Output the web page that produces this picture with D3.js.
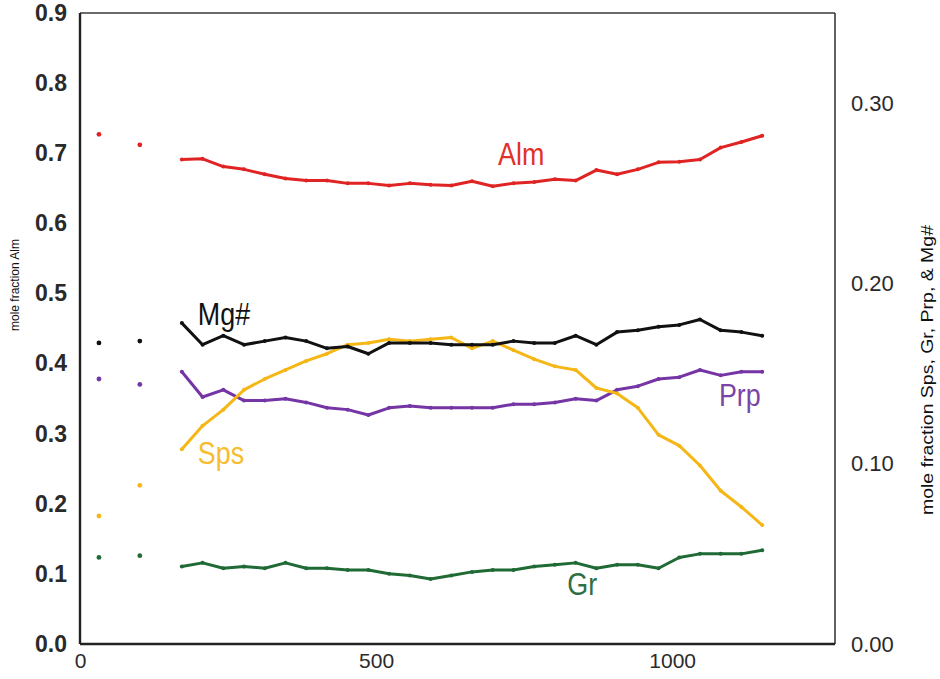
<!DOCTYPE html>
<html>
<head>
<meta charset="utf-8">
<script src="https://cdn.jsdelivr.net/npm/d3@7"></script>
<style>
  body { margin: 0; background: #fff; }
  svg { display: block; }
</style>
</head>
<body>
<svg id="chart" width="940" height="679"></svg>
<script>
// Garnet traverse: distance from rim (µm) and end-member mole fractions
const distance = [172, 207, 242, 277, 312, 347, 382, 417, 452, 487, 522, 557, 592, 627, 662,
                  697, 732, 767, 802, 837, 872, 907, 942, 977, 1012, 1047, 1082, 1117, 1152];
const almValues = [0.691, 0.692, 0.681, 0.677, 0.670, 0.664, 0.661, 0.661, 0.657, 0.657, 0.654, 0.657, 0.655, 0.654, 0.660,
                   0.653, 0.657, 0.659, 0.663, 0.661, 0.676, 0.670, 0.677, 0.687, 0.688, 0.691, 0.708, 0.716, 0.725];
const mgValues  = [0.178, 0.166, 0.171, 0.166, 0.168, 0.170, 0.168, 0.164, 0.165, 0.161, 0.167, 0.167, 0.167, 0.166, 0.166,
                   0.166, 0.168, 0.167, 0.167, 0.171, 0.166, 0.173, 0.174, 0.176, 0.177, 0.180, 0.174, 0.173, 0.171];
const prpValues = [0.151, 0.137, 0.141, 0.135, 0.135, 0.136, 0.134, 0.131, 0.130, 0.127, 0.131, 0.132, 0.131, 0.131, 0.131,
                   0.131, 0.133, 0.133, 0.134, 0.136, 0.135, 0.141, 0.143, 0.147, 0.148, 0.152, 0.149, 0.151, 0.151];
const spsValues = [0.108, 0.121, 0.130, 0.141, 0.147, 0.152, 0.157, 0.161, 0.166, 0.167, 0.169, 0.168, 0.169, 0.170, 0.164,
                   0.168, 0.163, 0.158, 0.154, 0.152, 0.142, 0.139, 0.131, 0.116, 0.110, 0.099, 0.085, 0.076, 0.066];
const grValues  = [0.043, 0.045, 0.042, 0.043, 0.042, 0.045, 0.042, 0.042, 0.041, 0.041, 0.039, 0.038, 0.036, 0.038, 0.040,
                   0.041, 0.041, 0.043, 0.044, 0.045, 0.042, 0.044, 0.044, 0.042, 0.048, 0.050, 0.050, 0.050, 0.052];

// Separate analyses near the rim (drawn as isolated points)
const rimDistance = [32, 101];
const almRim = [0.727, 0.712];
const mgRim  = [0.167, 0.168];
const prpRim = [0.147, 0.144];
const spsRim = [0.071, 0.088];
const grRim  = [0.048, 0.049];

// Tick labels
const xTicks = [0, 500, 1000];
const leftTicks = [0, 0.1, 0.2, 0.3, 0.4, 0.5, 0.6, 0.7, 0.8, 0.9];
const rightTicks = [0, 0.10, 0.20, 0.30];

const svg = d3.select("#chart");
const frame = { left: 80, right: 835, top: 13, bottom: 644 };

const x = d3.scaleLinear().domain([0, 1275]).range([frame.left, frame.right]);
const yLeft = d3.scaleLinear().domain([0, 0.9]).range([frame.bottom, frame.top]);
const yRight = d3.scaleLinear().domain([0, 0.35]).range([frame.bottom, frame.top]);

// Series definitions: which axis each end-member is read against
const series = [
  { name: "Alm", values: almValues, rim: almRim, y: yLeft,  color: "#e02323",
    label: { x: 706, v: 0.683, color: "#e2302b" } },
  { name: "Gr",  values: grValues,  rim: grRim,  y: yRight, color: "#1f6a35",
    label: { x: 823, v: 0.027, color: "#2e6f46" } },
  { name: "Prp", values: prpValues, rim: prpRim, y: yRight, color: "#7535a5",
    label: { x: 1079, v: 0.132, color: "#7b45a8" } },
  { name: "Sps", values: spsValues, rim: spsRim, y: yRight, color: "#f5b716",
    label: { x: 199, v: 0.100, color: "#f6bd2c" } },
  { name: "Mg#", values: mgValues,  rim: mgRim,  y: yRight, color: "#111111",
    label: { x: 199, v: 0.1767, color: "#111111" } }
];

// Frame
svg.append("line").attr("x1", frame.left).attr("x2", frame.right)
  .attr("y1", frame.top).attr("y2", frame.top)
  .attr("stroke", "#3a3a3a").attr("stroke-width", 1.6);
svg.append("line").attr("x1", frame.right).attr("x2", frame.right)
  .attr("y1", frame.top).attr("y2", frame.bottom)
  .attr("stroke", "#3a3a3a").attr("stroke-width", 1.6);
svg.append("line").attr("x1", frame.left).attr("x2", frame.left)
  .attr("y1", frame.top).attr("y2", frame.bottom)
  .attr("stroke", "#222").attr("stroke-width", 2.4);
svg.append("line").attr("x1", frame.left).attr("x2", frame.right)
  .attr("y1", frame.bottom).attr("y2", frame.bottom)
  .attr("stroke", "#222").attr("stroke-width", 2.4);

// Axes (labels only, frame drawn above)
const leftAxis = svg.append("g")
  .attr("transform", `translate(${frame.left},0)`)
  .call(d3.axisLeft(yLeft).tickValues(leftTicks).tickFormat(d3.format(".1f"))
        .tickSize(0).tickPadding(13));
leftAxis.selectAll("text")
  .attr("font-family", "Liberation Sans, Arial, sans-serif")
  .attr("font-weight", "bold").attr("font-size", 23).attr("fill", "#2a2a2a");

const rightAxis = svg.append("g")
  .attr("transform", `translate(${frame.right},0)`)
  .call(d3.axisRight(yRight).tickValues(rightTicks).tickFormat(d3.format(".2f"))
        .tickSize(0).tickPadding(16));
rightAxis.selectAll("text")
  .attr("font-family", "Liberation Sans, Arial, sans-serif")
  .attr("font-size", 22).attr("fill", "#2a2a2a");

const bottomAxis = svg.append("g")
  .attr("transform", `translate(0,${frame.bottom})`)
  .call(d3.axisBottom(x).tickValues(xTicks).tickFormat(d3.format("d"))
        .tickSize(0).tickPadding(9));
bottomAxis.selectAll("text")
  .attr("font-family", "Liberation Sans, Arial, sans-serif")
  .attr("font-size", 21).attr("fill", "#2a2a2a");

[leftAxis, rightAxis, bottomAxis].forEach(a => a.select(".domain").remove());

// Axis titles
svg.append("text")
  .attr("transform", `translate(19,285) rotate(-90)`)
  .attr("text-anchor", "middle")
  .attr("font-family", "Liberation Sans, Arial, sans-serif")
  .attr("font-size", 13).attr("fill", "#111")
  .attr("textLength", 92).attr("lengthAdjust", "spacingAndGlyphs")
  .text("mole fraction Alm");

svg.append("text")
  .attr("transform", `translate(933,370) rotate(-90)`)
  .attr("text-anchor", "middle")
  .attr("font-family", "Liberation Sans, Arial, sans-serif")
  .attr("font-size", 17).attr("fill", "#111")
  .attr("textLength", 290).attr("lengthAdjust", "spacingAndGlyphs")
  .text("mole fraction Sps, Gr, Prp, & Mg#");

// Profiles
const plot = svg.append("g");
series.forEach(s => {
  const pts = distance.map((d, i) => [d, s.values[i]]);
  const line = d3.line().x(p => x(p[0])).y(p => s.y(p[1]));
  plot.append("path")
    .datum(pts)
    .attr("d", line)
    .attr("fill", "none")
    .attr("stroke", s.color)
    .attr("stroke-width", 3)
    .attr("stroke-linejoin", "round")
    .attr("stroke-linecap", "round");
  plot.selectAll(null)
    .data(pts)
    .join("circle")
    .attr("cx", p => x(p[0]))
    .attr("cy", p => s.y(p[1]))
    .attr("r", 2)
    .attr("fill", s.color);
  plot.selectAll(null)
    .data(rimDistance.map((d, i) => [d, s.rim[i]]))
    .join("circle")
    .attr("cx", p => x(p[0]))
    .attr("cy", p => s.y(p[1]))
    .attr("r", 2.4)
    .attr("fill", s.color);
});

// Series labels
series.forEach(s => {
  svg.append("text")
    .attr("transform", `translate(${x(s.label.x)},${s.y(s.label.v)}) scale(0.84,1)`)
    .attr("font-family", "Liberation Sans, Arial, sans-serif")
    .attr("font-size", 32)
    .attr("fill", s.label.color)
    .text(s.name);
});
</script>
</body>
</html>
